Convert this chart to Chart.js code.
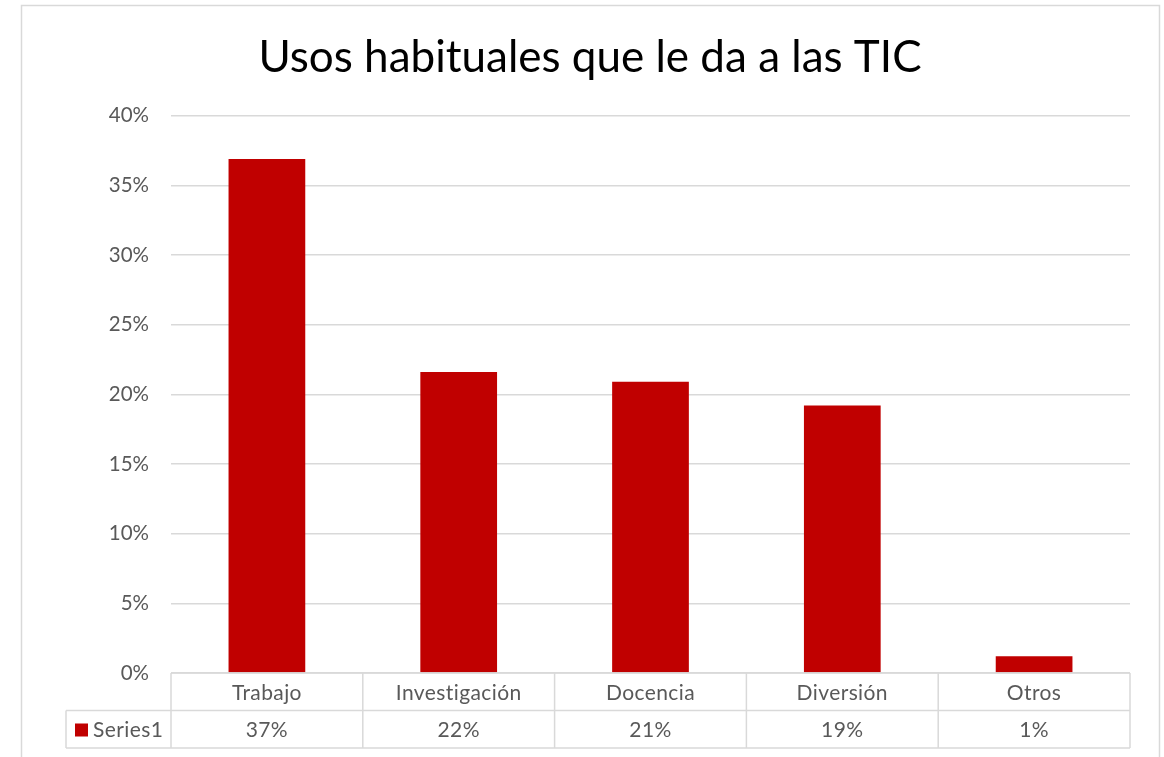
<!DOCTYPE html>
<html>
<head>
<meta charset="utf-8">
<script src="https://cdn.jsdelivr.net/npm/chart.js@4.4.1/dist/chart.umd.min.js"></script>
<style>
    html, body { margin: 0; padding: 0; background: #fff; }
    #wrap { position: relative; width: 1164px; height: 757px; }
</style>
</head>
<body>
<div id="wrap"><canvas id="chart"></canvas></div>
<script>
// Chart data
const categories = ['Trabajo', 'Investigación', 'Docencia', 'Diversión', 'Otros'];
const seriesName = 'Series1';
const values = [36.9, 21.6, 20.9, 19.2, 1.2];
const yTicks = [0, 5, 10, 15, 20, 25, 30, 35, 40];

const FONT = "Lato, 'Open Sans', sans-serif";
const BAR_COLOR = '#C00000';
const LINE_COLOR = '#d9d9d9';
const TEXT_COLOR = '#595959';

// Frame + data table under the plot area (Excel style)
const dataTablePlugin = {
    id: 'dataTable',
    beforeDraw(chart) {
        const ctx = chart.ctx;
        ctx.save();
        ctx.strokeStyle = LINE_COLOR;
        ctx.lineWidth = 1.5;
        ctx.strokeRect(21.5, 5.5, 1138, 800);
        ctx.restore();
    },
    afterDraw(chart) {
        const ctx = chart.ctx;
        const area = chart.chartArea;
        const xScale = chart.scales.x;
        const rowH = 37.5;
        const top = area.bottom;
        const mid = top + rowH;
        const bottom = mid + rowH;
        const legendLeft = 66;
        const step = (area.right - area.left) / categories.length;

        ctx.save();
        ctx.strokeStyle = LINE_COLOR;
        ctx.lineWidth = 1.5;
        ctx.beginPath();
        // horizontal lines
        ctx.moveTo(area.left, top); ctx.lineTo(area.right, top);
        ctx.moveTo(legendLeft, mid); ctx.lineTo(area.right, mid);
        ctx.moveTo(legendLeft, bottom); ctx.lineTo(area.right, bottom);
        // vertical lines
        for (let i = 0; i <= categories.length; i++) {
            const x = area.left + i * step;
            ctx.moveTo(x, top); ctx.lineTo(x, bottom);
        }
        ctx.moveTo(legendLeft, mid); ctx.lineTo(legendLeft, bottom);
        ctx.stroke();

        // texts
        ctx.fillStyle = TEXT_COLOR;
        ctx.font = '21px ' + FONT;
        ctx.letterSpacing = '0.4px';
        ctx.textAlign = 'center';
        ctx.textBaseline = 'middle';
        categories.forEach((c, i) => {
            const x = xScale.getPixelForValue(i);
            ctx.fillText(c, x, top + rowH / 2 + 1);
            ctx.fillText(Math.round(values[i]) + '%', x, mid + rowH / 2 + 1);
        });

        // legend key
        ctx.fillStyle = BAR_COLOR;
        ctx.fillRect(75, mid + 13, 13, 13);
        ctx.fillStyle = TEXT_COLOR;
        ctx.textAlign = 'left';
        ctx.fillText(seriesName, 93, mid + rowH / 2 + 1);
        ctx.restore();
    }
};

const ctx = document.getElementById('chart').getContext('2d');

new Chart(ctx, {
    type: 'bar',
    data: {
        labels: categories,
        datasets: [{
            label: seriesName,
            data: values,
            backgroundColor: BAR_COLOR,
            categoryPercentage: 1,
            barPercentage: 0.4
        }]
    },
    options: {
        responsive: true,
        maintainAspectRatio: false,
        animation: false,
        layout: {
            padding: { left: 50, right: 34, top: 0, bottom: 84 }
        },
        plugins: {
            legend: { display: false },
            tooltip: { enabled: false },
            title: {
                display: true,
                text: 'Usos habituales que le da a las TIC',
                color: '#000',
                font: { family: FONT, size: 44, weight: 'normal' },
                padding: { top: 31, bottom: 32 }
            }
        },
        scales: {
            x: {
                display: false
            },
            y: {
                min: 0,
                max: 40,
                afterFit: (scale) => { scale.width = 121; },
                afterBuildTicks: (scale) => {
                    scale.ticks = yTicks.map(v => ({ value: v }));
                },
                border: { display: false },
                grid: {
                    color: LINE_COLOR,
                    lineWidth: 1.5,
                    drawTicks: false
                },
                ticks: {
                    padding: 22,
                    color: TEXT_COLOR,
                    font: { family: FONT, size: 20.5 },
                    callback: (v) => v + '%'
                }
            }
        }
    },
    plugins: [dataTablePlugin]
});
</script>
</body>
</html>
